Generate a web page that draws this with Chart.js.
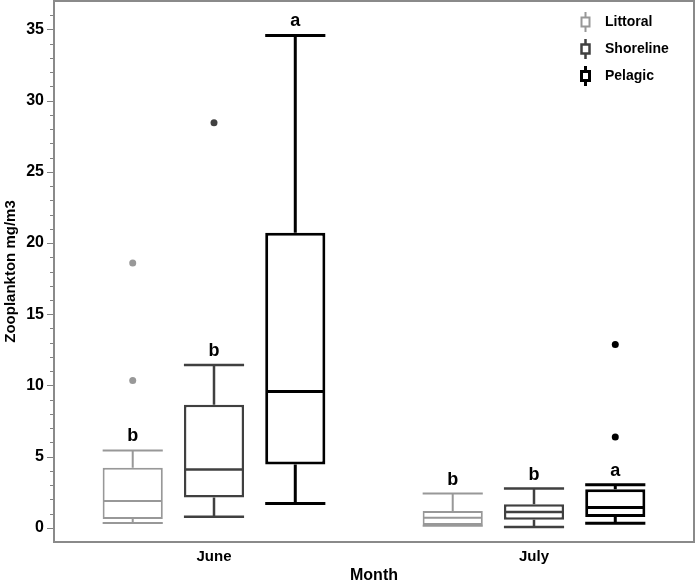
<!DOCTYPE html>
<html><head><meta charset="utf-8">
<script src="https://cdn.jsdelivr.net/npm/chart.js@4/dist/chart.umd.min.js"></script>
<style>html,body{margin:0;padding:0;background:#fff}#wrap{width:697px;height:584px;position:relative}</style>
</head><body><div id="wrap"><canvas id="c"></canvas></div>
<script>
const months = ['June', 'July'];
const seriesNames = ['Littoral', 'Shoreline', 'Pelagic'];

const littoralLow = [0.34, 0.15];
const littoralQ1 = [0.62, 0.20];
const littoralMedian = [1.88, 0.71];
const littoralQ3 = [4.22, 1.18];
const littoralHigh = [5.43, 2.40];
const littoralOutliers = [[10.35, 18.6], []];
const littoralLetters = ['b', 'b'];

const shorelineLow = [0.78, 0.06];
const shorelineQ1 = [2.12, 0.57];
const shorelineMedian = [4.10, 1.11];
const shorelineQ3 = [8.64, 1.65];
const shorelineHigh = [11.44, 2.75];
const shorelineOutliers = [[28.44], []];
const shorelineLetters = ['b', 'b'];

const pelagicLow = [1.70, 0.32];
const pelagicQ1 = [4.45, 0.76];
const pelagicMedian = [9.57, 1.42];
const pelagicQ3 = [20.72, 2.70];
const pelagicHigh = [34.58, 3.03];
const pelagicOutliers = [[], [6.37, 12.87]];
const pelagicLetters = ['a', 'a'];

const yTickValues = [0, 5, 10, 15, 20, 25, 30, 35];

const colors = ['#989898', '#404040', '#000000'];
const widths = [2, 2.5, 3];
const FONT = '"Liberation Sans", Arial, Helvetica, sans-serif';

const stats = [
  {low: littoralLow, q1: littoralQ1, med: littoralMedian, q3: littoralQ3, high: littoralHigh, out: littoralOutliers, letters: littoralLetters},
  {low: shorelineLow, q1: shorelineQ1, med: shorelineMedian, q3: shorelineQ3, high: shorelineHigh, out: shorelineOutliers, letters: shorelineLetters},
  {low: pelagicLow, q1: pelagicQ1, med: pelagicMedian, q3: pelagicQ3, high: pelagicHigh, out: pelagicOutliers, letters: pelagicLetters}
];

const datasets = seriesNames.map((name, s) => ({
  label: name,
  data: months.map((m, i) => [stats[s].q1[i], stats[s].q3[i]]),
  backgroundColor: '#ffffff',
  borderColor: colors[s],
  borderWidth: widths[s],
  borderSkipped: false,
  barPercentage: 0.74,
  categoryPercentage: 0.762
}));

const boxPlugin = {
  id: 'boxExtras',
  afterDatasetsDraw(chart) {
    const ctx = chart.ctx;
    const y = chart.scales.y;
    const area = chart.chartArea;
    ctx.save();
    ctx.strokeStyle = '#808080';
    ctx.lineWidth = 1;
    for (let v = 0; v <= 36; v++) {
      const py = Math.round(y.getPixelForValue(v)) + 0.5;
      const len = v % 5 === 0 ? 7 : 4;
      ctx.beginPath();
      ctx.moveTo(area.left - len, py);
      ctx.lineTo(area.left, py);
      ctx.stroke();
    }
    ctx.strokeStyle = '#8a8a8a';
    ctx.lineWidth = 2;
    ctx.strokeRect(area.left, area.top, area.right - area.left, area.bottom - area.top);

    stats.forEach((st, s) => {
      const meta = chart.getDatasetMeta(s);
      ctx.strokeStyle = colors[s];
      ctx.fillStyle = colors[s];
      ctx.lineWidth = widths[s];
      meta.data.forEach((bar, i) => {
        const cx = bar.x;
        const hw = bar.width / 2;
        const pHigh = y.getPixelForValue(st.high[i]);
        const pLow = y.getPixelForValue(st.low[i]);
        const pQ1 = y.getPixelForValue(st.q1[i]);
        const pQ3 = y.getPixelForValue(st.q3[i]);
        const pMed = y.getPixelForValue(st.med[i]);
        ctx.beginPath();
        ctx.moveTo(cx, pQ3); ctx.lineTo(cx, pHigh);
        ctx.moveTo(cx - hw, pHigh); ctx.lineTo(cx + hw, pHigh);
        ctx.moveTo(cx, pQ1); ctx.lineTo(cx, pLow);
        ctx.moveTo(cx - hw, pLow); ctx.lineTo(cx + hw, pLow);
        ctx.moveTo(cx - hw + widths[s] / 2, pMed); ctx.lineTo(cx + hw - widths[s] / 2, pMed);
        ctx.stroke();
        st.out[i].forEach(v => {
          ctx.beginPath();
          ctx.arc(cx, y.getPixelForValue(v), 3.5, 0, Math.PI * 2);
          ctx.fill();
        });
        ctx.fillStyle = '#000';
        ctx.font = 'bold 18px ' + FONT;
        ctx.textAlign = 'center';
        ctx.textBaseline = 'alphabetic';
        ctx.fillText(st.letters[i], cx, pHigh - 9);
        ctx.fillStyle = colors[s];
      });
    });

    const legY = [22, 49, 76];
    seriesNames.forEach((name, s) => {
      const lx = 585.5, ly = legY[s];
      ctx.strokeStyle = colors[s];
      ctx.lineWidth = widths[s];
      ctx.beginPath();
      ctx.moveTo(lx, ly - 10); ctx.lineTo(lx, ly - 4.5);
      ctx.moveTo(lx, ly + 4.5); ctx.lineTo(lx, ly + 10);
      ctx.stroke();
      ctx.strokeRect(lx - 4, ly - 4.5, 8, 9);
      ctx.fillStyle = '#000';
      ctx.font = 'bold 14px ' + FONT;
      ctx.textAlign = 'left';
      ctx.textBaseline = 'middle';
      ctx.fillText(name, 605, ly + 0.5);
    });
    ctx.restore();
  }
};

new Chart(document.getElementById('c'), {
  type: 'bar',
  data: { labels: months, datasets: datasets },
  options: {
    responsive: true,
    maintainAspectRatio: false,
    animation: false,
    layout: { padding: { top: 1, right: 3, left: 0, bottom: 0 } },
    plugins: { legend: { display: false }, tooltip: { enabled: false } },
    scales: {
      x: {
        grid: { display: false, drawTicks: false },
        border: { display: false },
        ticks: { color: '#000', font: { family: FONT, size: 15, weight: 'bold' }, padding: 6 },
        title: { display: true, text: 'Month', color: '#000', font: { family: FONT, size: 16, weight: 'bold', lineHeight: 1 }, padding: { top: 0, bottom: 0 } },
        afterFit(scale) { scale.height = 42; scale.paddingLeft = 0; scale.paddingRight = 0; }
      },
      y: {
        min: -1, max: 37,
        grid: { display: false, drawTicks: false },
        border: { display: false },
        afterBuildTicks(scale) { scale.ticks = yTickValues.map(v => ({ value: v })); },
        ticks: { color: '#000', font: { family: FONT, size: 16, weight: 'bold' }, padding: 10 },
        title: { display: true, text: 'Zooplankton mg/m3', color: '#000', font: { family: FONT, size: 15, weight: 'bold', lineHeight: 1.2 }, padding: { top: 2, bottom: 0 } },
        afterFit(scale) { scale.width = 54; scale.paddingTop = 0; scale.paddingBottom = 0; }
      }
    }
  },
  plugins: [boxPlugin]
});
</script>
</body></html>
